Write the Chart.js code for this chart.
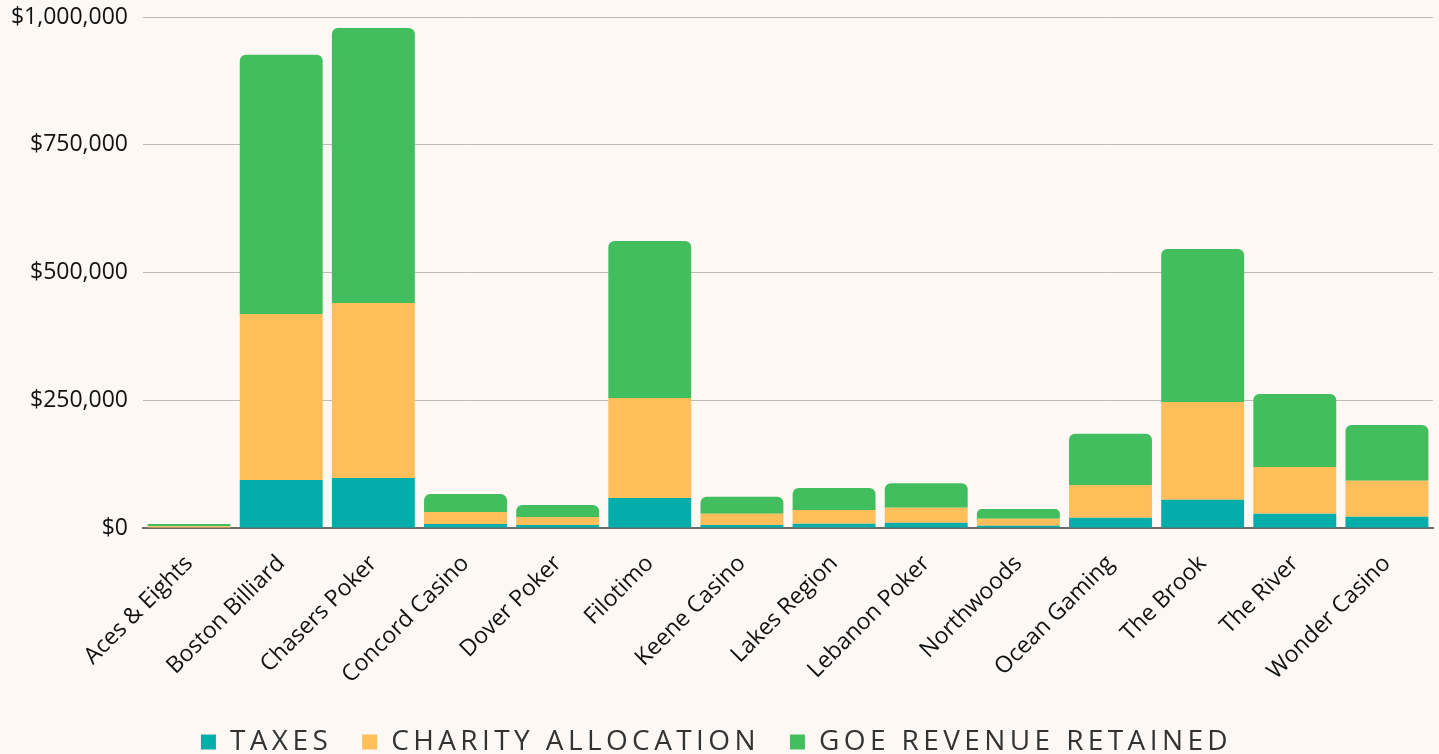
<!DOCTYPE html>
<html>
<head>
<meta charset="utf-8">
<script src="https://cdn.jsdelivr.net/npm/chart.js@4.4.1/dist/chart.umd.min.js"></script>
<style>
  html, body { margin: 0; padding: 0; background: #fdf8f4; }
  #wrap { width: 1439px; height: 754px; }
</style>
</head>
<body>
<div id="wrap"><canvas id="goeChart" width="1439" height="754"></canvas></div>
<script>
// Values
const operators = ['Aces & Eights', 'Boston Billiard', 'Chasers Poker', 'Concord Casino', 'Dover Poker',
    'Filotimo', 'Keene Casino', 'Lakes Region', 'Lebanon Poker', 'Northwoods', 'Ocean Gaming',
    'The Brook', 'The River', 'Wonder Casino'];
const taxes = [1000, 94000, 97800, 7800, 5900, 58700, 5900, 8400, 10400, 4600, 20200, 55400, 28000, 22100];
const charity = [2500, 325000, 342500, 23500, 15600, 195700, 22100, 26800, 29300, 13700, 63900, 191200, 91400, 70500];
const goeRetained = [4300, 507000, 538000, 35000, 23500, 307200, 33300, 43100, 47700, 18900, 100400, 299400, 142800, 109000];
const yTicks = [0, 250000, 500000, 750000, 1000000];

const fontFamily = '"Open Sans", sans-serif';

// spaced-out legend text like the original
const legendSpacing = {
    id: 'legendSpacing',
    afterInit(chart) {
        const lg = chart.legend;
        if (!lg) return;
        ['fit', 'draw'].forEach(function(fn) {
            const orig = lg[fn];
            lg[fn] = function() {
                const ctx = chart.ctx;
                ctx.save();
                ctx.letterSpacing = '4.4px';
                const r = orig.apply(this, arguments);
                ctx.restore();
                return r;
            };
        });
    }
};

new Chart(document.getElementById('goeChart'), {
    type: 'bar',
    data: {
        labels: operators,
        datasets: [
            { label: 'TAXES', data: taxes, backgroundColor: '#03aeaa', borderRadius: 6 },
            { label: 'CHARITY ALLOCATION', data: charity, backgroundColor: '#febe5a', borderRadius: 6 },
            { label: 'GOE REVENUE RETAINED', data: goeRetained, backgroundColor: '#43be5e', borderRadius: 6 }
        ]
    },
    options: {
        responsive: false,
        animation: false,
        devicePixelRatio: 1,
        layout: { padding: { top: 17, right: 6, left: 0, bottom: -12 } },
        datasets: { bar: { barPercentage: 0.9, categoryPercentage: 1.0 } },
        scales: {
            x: {
                stacked: true,
                grid: { display: false },
                border: { display: true, color: '#6b6b6b', width: 2 },
                ticks: {
                    color: '#111',
                    font: { family: fontFamily, size: 23 },
                    maxRotation: 45,
                    minRotation: 45,
                    padding: 14
                },
                afterFit(scale) { scale.height = 170; }
            },
            y: {
                stacked: true,
                min: 0,
                max: 1000000,
                afterBuildTicks(scale) { scale.ticks = yTicks.map(v => ({ value: v })); },
                grid: { color: '#bdbab7', drawTicks: false },
                border: { display: false },
                ticks: {
                    color: '#111',
                    padding: 15,
                    font: { family: fontFamily, size: 23 },
                    callback: v => '$' + Number(v).toLocaleString('en-US')
                },
                afterFit(scale) {
                    scale.width = 143;
                    scale.paddingTop = 0;
                    scale.paddingBottom = 0;
                }
            }
        },
        plugins: {
            tooltip: { enabled: false },
            legend: {
                position: 'bottom',
                labels: {
                    color: '#333',
                    boxWidth: 15,
                    boxHeight: 15,
                    padding: 30,
                    font: { family: fontFamily, size: 28 }
                }
            }
        }
    },
    plugins: [legendSpacing]
});
</script>
</body>
</html>
